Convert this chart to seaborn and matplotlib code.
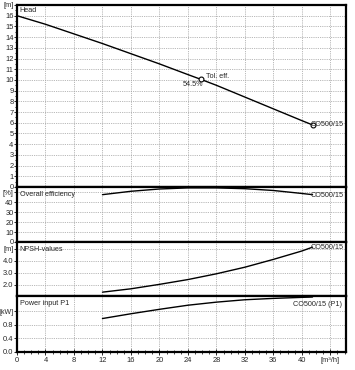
import numpy as np
import pandas as pd
import matplotlib
matplotlib.use("Agg")
import matplotlib.pyplot as plt
from matplotlib.ticker import MultipleLocator, FixedLocator
import seaborn as sns

# ---- data ----
flow_head = [0, 4, 8, 12, 16, 20, 24, 25.8, 28, 32, 36, 40, 41.5]
head = [16.0, 15.2, 14.3, 13.4, 12.45, 11.5, 10.5, 10.06, 9.5, 8.4, 7.3, 6.2, 5.8]

flow_curve = [12, 16, 20, 24, 28, 32, 36, 40, 41.5]
efficiency = [47.6, 51.0, 53.3, 54.4, 54.4, 53.6, 51.8, 48.8, 47.6]
npsh = [1.37, 1.65, 2.02, 2.42, 2.9, 3.45, 4.1, 4.8, 5.12]
power = [0.98, 1.12, 1.25, 1.37, 1.46, 1.53, 1.57, 1.60, 1.61]

tol_flow = 25.8
tol_head = 10.06
tol_eff_label = "54.5%"
pump_name = "CO500/15"

x_ticks = [0, 4, 8, 12, 16, 20, 24, 28, 32, 36, 40, 44]
x_ticklabels = ["0", "4", "8", "12", "16", "20", "24", "28", "32", "36", "40", "[m³/h]"]

head_ticks = list(range(0, 18))
head_ticklabels = [str(t) for t in range(0, 17)] + ["[m]"]
eff_ticks = [0, 10, 20, 30, 40, 50]
eff_ticklabels = ["0", "10", "20", "30", "40", "[%]"]
npsh_ticks = [2.0, 3.0, 4.0, 5.0]
npsh_ticklabels = ["2.0", "3.0", "4.0", "[m]"]
power_ticks = [0.0, 0.4, 0.8, 1.2]
power_ticklabels = ["0.0", "0.4", "0.8", "[kW]"]

# ---- style ----
sns.set_style("white")
plt.rcParams["font.family"] = ["Liberation Sans", "DejaVu Sans"]
FS = 5.4   # tick labels
FT = 5.2   # annotations

W, H = 355, 370
fig = plt.figure(figsize=(W / 100, H / 100), dpi=100)

left_px, right_px = 17, 346
def rect(top_px, bot_px):
    return [left_px / W, 1 - bot_px / H, (right_px - left_px) / W, (bot_px - top_px) / H]

ax_h = fig.add_axes(rect(5, 187))
ax_e = fig.add_axes(rect(187, 242))
ax_n = fig.add_axes(rect(242, 296))
ax_p = fig.add_axes(rect(296, 352))
axes = [ax_h, ax_e, ax_n, ax_p]

XMAX = 46.2
grid_kw = dict(color="#a0a0a0", linestyle=(0, (1, 1.2)), linewidth=0.6)
for ax in axes:
    ax.set_xlim(0, XMAX)
    ax.xaxis.set_major_locator(FixedLocator(x_ticks))
    ax.xaxis.set_minor_locator(MultipleLocator(1))
    ax.grid(True, which="major", **grid_kw)
    ax.set_axisbelow(True)
    for s in ax.spines.values():
        s.set_linewidth(1.6)
        s.set_color("black")
    ax.tick_params(axis="y", which="both", direction="out", length=2.2, width=0.7,
                   labelsize=FS, pad=0.3, left=True)
    ax.tick_params(axis="y", which="minor", length=1.5)

for ax in axes[:-1]:
    ax.tick_params(axis="x", which="both", bottom=False, labelbottom=False)
ax_p.tick_params(axis="x", which="major", direction="inout", length=4, width=0.7,
                 labelsize=FS, pad=1.5, bottom=True)
ax_p.tick_params(axis="x", which="minor", direction="inout", length=2.5, width=0.6, bottom=True)
ax_p.set_xticklabels(x_ticklabels)

# Head
df_h = pd.DataFrame({"Q": flow_head, "H": head})
sns.lineplot(data=df_h, x="Q", y="H", ax=ax_h, color="black", linewidth=1.0)
ax_h.set_xlim(0, XMAX)
ax_h.set_ylim(0, 17)
ax_h.yaxis.set_major_locator(FixedLocator(head_ticks))
ax_h.yaxis.set_minor_locator(MultipleLocator(0.5))
ax_h.set_yticklabels(head_ticklabels)
ax_h.set_xlabel(""); ax_h.set_ylabel("")
ax_h.text(0.008, 16.45, "Head", fontsize=FT, va="center", ha="left",
          transform=ax_h.get_yaxis_transform())
ax_h.plot([tol_flow], [tol_head], marker="o", markersize=3.5, markerfacecolor="white",
          markeredgecolor="black", markeredgewidth=0.8, linestyle="none")
ax_h.text(tol_flow + 0.8, tol_head + 0.3, "Tol. eff.", fontsize=FT, va="center", ha="left")
ax_h.text(tol_flow + 0.3, tol_head - 0.45, tol_eff_label, fontsize=FT, va="center", ha="right")
ax_h.plot([flow_head[-1]], [head[-1]], marker="o", markersize=3.5, markerfacecolor="white",
          markeredgecolor="black", markeredgewidth=0.8, linestyle="none")
ax_h.text(flow_head[-1] - 0.25, head[-1], pump_name, fontsize=FT, va="center", ha="left")

# Efficiency
df_e = pd.DataFrame({"Q": flow_curve, "E": efficiency})
sns.lineplot(data=df_e, x="Q", y="E", ax=ax_e, color="black", linewidth=1.0)
ax_e.set_xlim(0, XMAX)
ax_e.set_ylim(0, 55.3)
ax_e.yaxis.set_major_locator(FixedLocator(eff_ticks))
ax_e.set_yticklabels(eff_ticklabels)
ax_e.set_xlabel(""); ax_e.set_ylabel("")
ax_e.text(0.008, 0.93, "Overall efficiency", transform=ax_e.transAxes, fontsize=FT,
          va="top", ha="left")
ax_e.text(flow_curve[-1] - 0.25, efficiency[-1] - 0.8, pump_name, fontsize=FT,
          va="center", ha="left")

# NPSH
df_n = pd.DataFrame({"Q": flow_curve, "N": npsh})
sns.lineplot(data=df_n, x="Q", y="N", ax=ax_n, color="black", linewidth=1.0)
ax_n.set_xlim(0, XMAX)
ax_n.set_ylim(1.05, 5.55)
ax_n.yaxis.set_major_locator(FixedLocator(npsh_ticks))
ax_n.set_yticklabels(npsh_ticklabels)
ax_n.set_xlabel(""); ax_n.set_ylabel("")
ax_n.text(0.008, 0.93, "NPSH-values", transform=ax_n.transAxes, fontsize=FT,
          va="top", ha="left")
ax_n.text(flow_curve[-1] - 0.25, npsh[-1], pump_name, fontsize=FT, va="center", ha="left")

# Power
df_p = pd.DataFrame({"Q": flow_curve, "P": power})
sns.lineplot(data=df_p, x="Q", y="P", ax=ax_p, color="black", linewidth=1.0)
ax_p.set_xlim(0, XMAX)
ax_p.set_ylim(0, 1.64)
ax_p.yaxis.set_major_locator(FixedLocator(power_ticks))
ax_p.set_yticklabels(power_ticklabels)
for lbl in ax_p.get_yticklabels():
    if lbl.get_text() == "[kW]":
        lbl.set_fontsize(5.0)
ax_p.set_xlabel(""); ax_p.set_ylabel("")
ax_p.text(0.008, 0.93, "Power input P1", transform=ax_p.transAxes, fontsize=FT,
          va="top", ha="left")
ax_p.text(45.6, 1.40, pump_name + " (P1)", fontsize=FT, va="center", ha="right")

fig.savefig("out.png", dpi=100)
